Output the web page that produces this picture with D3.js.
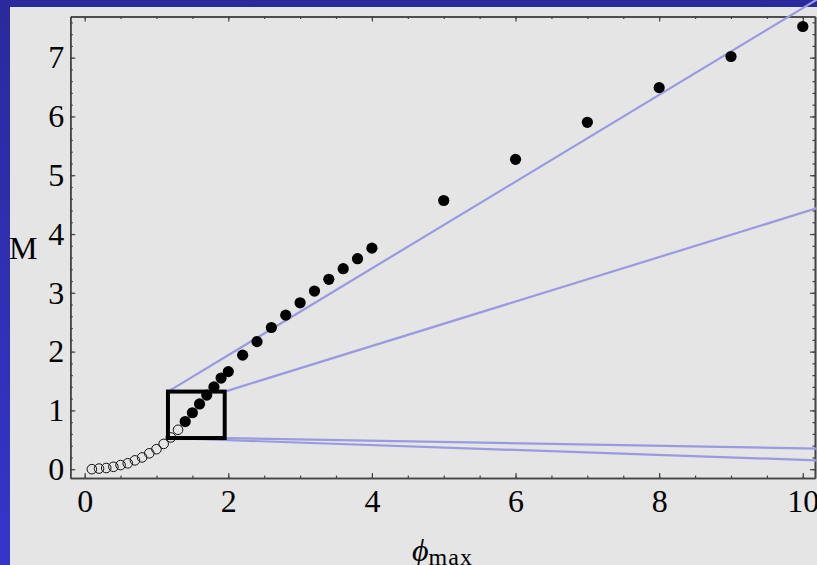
<!DOCTYPE html>
<html>
<head>
<meta charset="utf-8">
<script src="https://cdn.jsdelivr.net/npm/d3@7"></script>
<style>
  body { margin: 0; padding: 0; overflow: hidden; }
  svg text { font-family: "Liberation Serif", "Times New Roman", serif; }
</style>
</head>
<body>
<svg id="chart" width="817" height="565"></svg>
<script>
// open circles (small phi_max)
var openPhi = [0.1, 0.2, 0.3, 0.4, 0.5, 0.6, 0.7, 0.8, 0.9, 1.0, 1.1, 1.2, 1.3];
var openM   = [0.0, 0.01, 0.02, 0.04, 0.07, 0.10, 0.15, 0.20, 0.27, 0.34, 0.43, 0.54, 0.67];

// filled circles
var fullPhi = [1.4, 1.5, 1.6, 1.7, 1.8, 1.9, 2.0, 2.2, 2.4, 2.6, 2.8, 3.0, 3.2, 3.4, 3.6, 3.8, 4.0,
               5, 6, 7, 8, 9, 10];
var fullM   = [0.81, 0.96, 1.11, 1.26, 1.40, 1.55, 1.66, 1.94, 2.17, 2.41, 2.62, 2.83, 3.03, 3.23, 3.41, 3.58, 3.76,
               4.57, 5.27, 5.90, 6.49, 7.02, 7.53];

// zoom box and the lines leaving its corners
var boxPhi = [1.16, 1.95];
var boxM   = [0.53, 1.32];
var lineStart = [[1.16, 1.32], [1.95, 1.32], [1.16, 0.53], [1.95, 0.53]];
var lineEnd   = [[10.2, 7.99], [10.2, 4.44], [10.2, 0.15], [10.2, 0.35]];

var xTicks = [0, 2, 4, 6, 8, 10];
var yTicks = [0, 1, 2, 3, 4, 5, 6, 7];

var svg = d3.select("#chart");

var grad = svg.append("defs").append("linearGradient")
  .attr("id", "bg").attr("x1", 0).attr("y1", 0).attr("x2", 0).attr("y2", 1);
grad.append("stop").attr("offset", "0%").attr("stop-color", "#2a2a9c");
grad.append("stop").attr("offset", "100%").attr("stop-color", "#3535cc");

svg.append("rect").attr("width", 817).attr("height", 565).attr("fill", "url(#bg)");
svg.append("rect").attr("x", 10).attr("y", 7).attr("width", 807).attr("height", 558).attr("fill", "#e5e5e5");

var pLeft = 70.3, pRight = 815, pTop = 16.5, pBottom = 478;

var x = d3.scaleLinear().domain([-0.2, 10.17]).range([pLeft, pRight]);
var y = d3.scaleLinear().domain([-0.15, 7.7]).range([pBottom, pTop]);

var xMinor = d3.range(0, 10.01, 0.5);
var yMinor = d3.range(0, 7.61, 0.2);

function styleAxis(g) {
  g.select(".domain").attr("stroke", "#444").attr("stroke-width", 1.6);
  g.selectAll(".tick line").attr("stroke", "#444").attr("stroke-width", 1.2);
  g.selectAll("text").attr("font-family", "Liberation Serif").attr("font-size", 32).attr("fill", "#000");
}

// minor ticks
svg.append("g").attr("transform", "translate(0," + pBottom + ")")
  .call(d3.axisBottom(x).tickValues(xMinor).tickFormat("").tickSize(-2.5).tickSizeOuter(0)).call(styleAxis);
svg.append("g").attr("transform", "translate(0," + pTop + ")")
  .call(d3.axisTop(x).tickValues(xMinor).tickFormat("").tickSize(-2.5).tickSizeOuter(0)).call(styleAxis);
svg.append("g").attr("transform", "translate(" + pLeft + ",0)")
  .call(d3.axisLeft(y).tickValues(yMinor).tickFormat("").tickSize(-2.5).tickSizeOuter(0)).call(styleAxis);
svg.append("g").attr("transform", "translate(" + pRight + ",0)")
  .call(d3.axisRight(y).tickValues(yMinor).tickFormat("").tickSize(-2.5).tickSizeOuter(0)).call(styleAxis);

// major ticks and labels
svg.append("g").attr("transform", "translate(0," + pBottom + ")")
  .call(d3.axisBottom(x).tickValues(xTicks).tickFormat(d3.format("d")).tickSize(-5).tickSizeOuter(0).tickPadding(11))
  .call(styleAxis);
svg.append("g").attr("transform", "translate(0," + pTop + ")")
  .call(d3.axisTop(x).tickValues(xTicks).tickFormat("").tickSize(-5).tickSizeOuter(0)).call(styleAxis);
svg.append("g").attr("transform", "translate(" + pLeft + ",0)")
  .call(d3.axisLeft(y).tickValues(yTicks).tickFormat(d3.format("d")).tickSize(-5).tickSizeOuter(0).tickPadding(6))
  .call(styleAxis);
svg.append("g").attr("transform", "translate(" + pRight + ",0)")
  .call(d3.axisRight(y).tickValues(yTicks).tickFormat("").tickSize(-5).tickSizeOuter(0)).call(styleAxis);

// lines from the zoom box
svg.append("g").selectAll("line")
  .data(d3.range(lineStart.length))
  .enter().append("line")
  .attr("x1", function(i) { return x(lineStart[i][0]); })
  .attr("y1", function(i) { return y(lineStart[i][1]); })
  .attr("x2", function(i) { return x(lineEnd[i][0]); })
  .attr("y2", function(i) { return y(lineEnd[i][1]); })
  .attr("stroke", "#9a9ae0")
  .attr("stroke-width", 2.2);

// open points
svg.append("g").selectAll("circle")
  .data(openPhi)
  .enter().append("circle")
  .attr("cx", function(d) { return x(d); })
  .attr("cy", function(d, i) { return y(openM[i]); })
  .attr("r", 4.8)
  .attr("fill", "none")
  .attr("stroke", "#111")
  .attr("stroke-width", 1);

// filled points
svg.append("g").selectAll("circle")
  .data(fullPhi)
  .enter().append("circle")
  .attr("cx", function(d) { return x(d); })
  .attr("cy", function(d, i) { return y(fullM[i]); })
  .attr("r", 5.6)
  .attr("fill", "#000");

// zoom box
svg.append("rect")
  .attr("x", x(boxPhi[0]))
  .attr("y", y(boxM[1]))
  .attr("width", x(boxPhi[1]) - x(boxPhi[0]))
  .attr("height", y(boxM[0]) - y(boxM[1]))
  .attr("fill", "none")
  .attr("stroke", "#000")
  .attr("stroke-width", 4);

// axis titles
svg.append("text").attr("x", 9).attr("y", 259).attr("font-size", 32).text("M");
var xl = svg.append("text").attr("x", 412).attr("y", 561).attr("font-size", 32);
xl.append("tspan").attr("font-style", "italic").text("\u03D5");
xl.append("tspan").attr("font-size", 24).attr("dy", 4).attr("letter-spacing", 1).text("max");
</script>
</body>
</html>
